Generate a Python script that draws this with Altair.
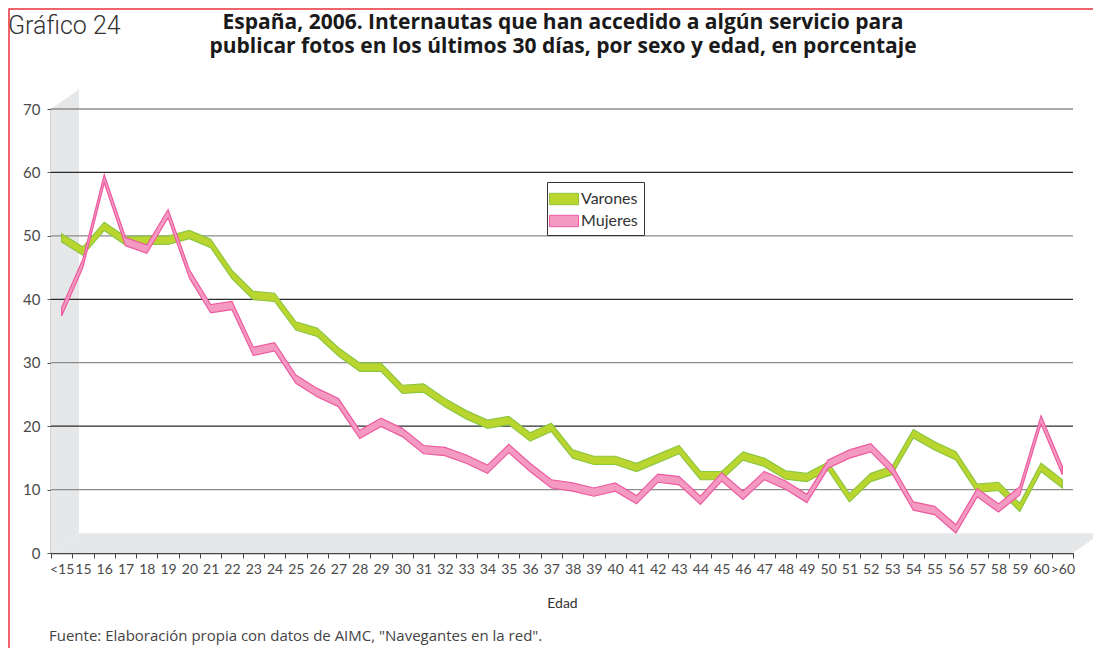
import altair as alt
import pandas as pd

# ---------------- data ----------------
edades = ["<15", "15", "16", "17", "18", "19", "20", "21", "22", "23", "24", "25",
          "26", "27", "28", "29", "30", "31", "32", "33", "34", "35", "36", "37",
          "38", "39", "40", "41", "42", "43", "44", "45", "46", "47", "48", "49",
          "50", "51", "52", "53", "54", "55", "56", "57", "58", "59", "60", ">60"]
varones = [49.7, 47.6, 51.5, 49.2, 49.3, 49.3, 50.2, 48.8, 43.9, 40.6, 40.3, 35.8,
           34.8, 31.7, 29.3, 29.3, 25.8, 26.0, 23.7, 21.8, 20.3, 20.9, 18.3, 19.8,
           15.6, 14.6, 14.6, 13.5, 14.9, 16.3, 12.2, 12.2, 15.3, 14.3, 12.3, 11.9,
           13.7, 8.7, 11.9, 13.0, 18.8, 16.9, 15.3, 10.2, 10.5, 7.2, 13.5, 10.9]
mujeres = [38.0, 45.7, 59.0, 49.1, 47.9, 53.5, 44.0, 38.5, 39.0, 31.8, 32.5, 27.4,
           25.3, 23.7, 18.7, 20.6, 19.0, 16.3, 16.0, 14.8, 13.2, 16.5, 13.5, 10.9,
           10.4, 9.6, 10.4, 8.4, 11.8, 11.4, 8.3, 12.0, 9.1, 12.2, 10.7, 8.6,
           14.0, 15.6, 16.6, 13.2, 7.4, 6.7, 3.8, 9.5, 7.1, 9.8, 21.0, 13.0]
series = ["Varones", "Mujeres"]
y_ticks = [0, 10, 20, 30, 40, 50, 60, 70]
grid_values = [10, 20, 30, 40, 50, 60, 70]

titulo = ["España, 2006. Internautas que han accedido a algún servicio para",
          "publicar fotos en los últimos 30 días, por sexo y edad, en porcentaje"]
grafico = "Gráfico 24"
fuente = "Fuente: Elaboración propia con datos de AIMC, \"Navegantes en la red\"."

# ---------------- styling ----------------
W, H = 1022, 444
FILL = ["#BBD52F", "#F49AC2"]
EDGE = ["#8DC63F", "#EC5A9F"]
WALL = "#E6E7E8"
FONT = "Lato"
HALF = 0.65  # half-thickness of the ribbons (in data units)

rows = []
for e, v, m in zip(edades, varones, mujeres):
    rows.append({"edad": e, "serie": "Varones", "valor": v})
    rows.append({"edad": e, "serie": "Mujeres", "valor": m})
df = pd.DataFrame(rows)

yscale = alt.Scale(domain=[0, 70], nice=False, zero=True)
y_axis = alt.Axis(values=y_ticks, title=None, grid=False, domainColor="#555",
                  domainWidth=1.5, tickColor="#555", tickSize=4, labelFont=FONT,
                  labelFontSize=15, labelColor="#4a4a4a", labelPadding=7)

# ---------------- 3D walls (decoration) ----------------
wall_df = pd.DataFrame({"wx": [-0.5, 0.815], "wy": [70.0, 73.1], "wy2": [0.0, 3.1]})
floor_df = pd.DataFrame({"wx": [-0.5, 0.815, 47.5, 48.815],
                         "wy": [0.0, 3.1, 3.1, 3.1],
                         "wy2": [0.0, 0.0, 0.0, 3.1]})
xdeco = alt.X("wx:Q", scale=alt.Scale(domain=[-0.5, 47.5], nice=False, zero=False),
              axis=None)
wall = alt.Chart(wall_df).mark_area(color=WALL, clip=False).encode(
    x=xdeco, y=alt.Y("wy:Q", scale=yscale, axis=y_axis), y2="wy2:Q")
floor = alt.Chart(floor_df).mark_area(color=WALL, clip=False).encode(
    x=xdeco, y=alt.Y("wy:Q", scale=yscale, axis=y_axis), y2="wy2:Q")

grid_df = pd.DataFrame({"g": grid_values})
grid = alt.Chart(grid_df).mark_rule(strokeWidth=1.3).encode(
    y=alt.Y("g:Q", scale=yscale, axis=y_axis),
    color=alt.condition("datum.g % 20 === 0", alt.value("#2b2b2b"), alt.value("#8c8c8c")))

deco = alt.layer(wall, floor, grid)

# ---------------- ribbons ----------------
x_enc = alt.X("edad:N", sort=edades,
              scale=alt.Scale(type="band", paddingInner=0, paddingOuter=0),
              axis=alt.Axis(title="Edad", tickBand="extent", labelAngle=0,
                            labelOverlap=False, labelBound=False,
                            domainColor="#444", domainWidth=1.5, tickColor="#444",
                            tickSize=5, labelFont=FONT, labelFontSize=14,
                            labelColor="#4a4a4a", labelPadding=4, titleFont=FONT,
                            titleFontSize=14, titleFontWeight="normal",
                            titleColor="#333", titlePadding=20))

SYMBOL = "M-1.4,-0.55H1.4V0.55H-1.4Z"
leg = dict(title=None, orient="none", legendX=496, legendY=73, direction="vertical",
           strokeColor="#333", fillColor="white", padding=6, rowPadding=3,
           symbolType=SYMBOL, symbolSize=430, symbolStrokeWidth=1,
           labelFont=FONT, labelFontSize=16, labelColor="#333", labelOffset=6)
fill_enc = alt.Fill("serie:N", scale=alt.Scale(domain=series, range=FILL),
                    legend=alt.Legend(**leg))
stroke_enc = alt.Stroke("serie:N", scale=alt.Scale(domain=series, range=EDGE),
                        legend=alt.Legend(**leg))


def ribbon(name):
    return alt.Chart(df).transform_filter(
        alt.datum.serie == name
    ).transform_calculate(
        top=f"datum.valor + {HALF}", bot=f"datum.valor - {HALF}"
    ).mark_area(strokeWidth=1.2, interpolate="linear", opacity=1).encode(
        x=x_enc,
        y=alt.Y("top:Q", scale=yscale, axis=y_axis, stack=None),
        y2="bot:Q",
        fill=fill_enc,
        stroke=stroke_enc,
    )


ribbons = alt.layer(ribbon("Varones"), ribbon("Mujeres"))

# ---------------- texts & frame ----------------
one = pd.DataFrame({"k": [0]})
ttl = alt.Chart(pd.DataFrame({"t": ["\n".join(titulo)]})).mark_text(
    font="Open Sans", fontSize=21, fontWeight="bold", color="#1a1a1a", align="center",
    baseline="alphabetic", lineBreak="\n", lineHeight=24).encode(
    text="t:N", x=alt.value(512), y=alt.value(-80))
tg = alt.Chart(pd.DataFrame({"t": [grafico]})).mark_text(
    font="Roboto", fontSize=25, fontWeight=300, color="#333", align="left",
    baseline="alphabetic").encode(text="t:N", x=alt.value(-43), y=alt.value(-75))
tf = alt.Chart(pd.DataFrame({"t": [fuente]})).mark_text(
    font="Open Sans", fontSize=15, color="#444", align="left",
    baseline="alphabetic").encode(text="t:N", x=alt.value(-2), y=alt.value(532))
frame = alt.Chart(one).mark_rect(fill=None, fillOpacity=0, stroke="#E8333A",
                                 strokeWidth=1.5, clip=False).encode(
    x=alt.value(-42), x2=alt.value(1080), y=alt.value(-100), y2=alt.value(580))
texts = alt.layer(frame, ttl, tg, tf)

chart = alt.layer(deco, ribbons, texts).resolve_scale(
    x="independent"
).properties(
    width=W, height=H,
    autosize=alt.AutoSizeParams(type="none"),
    padding={"left": 43, "top": 101, "right": 20, "bottom": 95},
    background="white",
).configure_view(stroke=None)

chart.save("out.html", embed_options={"renderer": "svg", "actions": False})
